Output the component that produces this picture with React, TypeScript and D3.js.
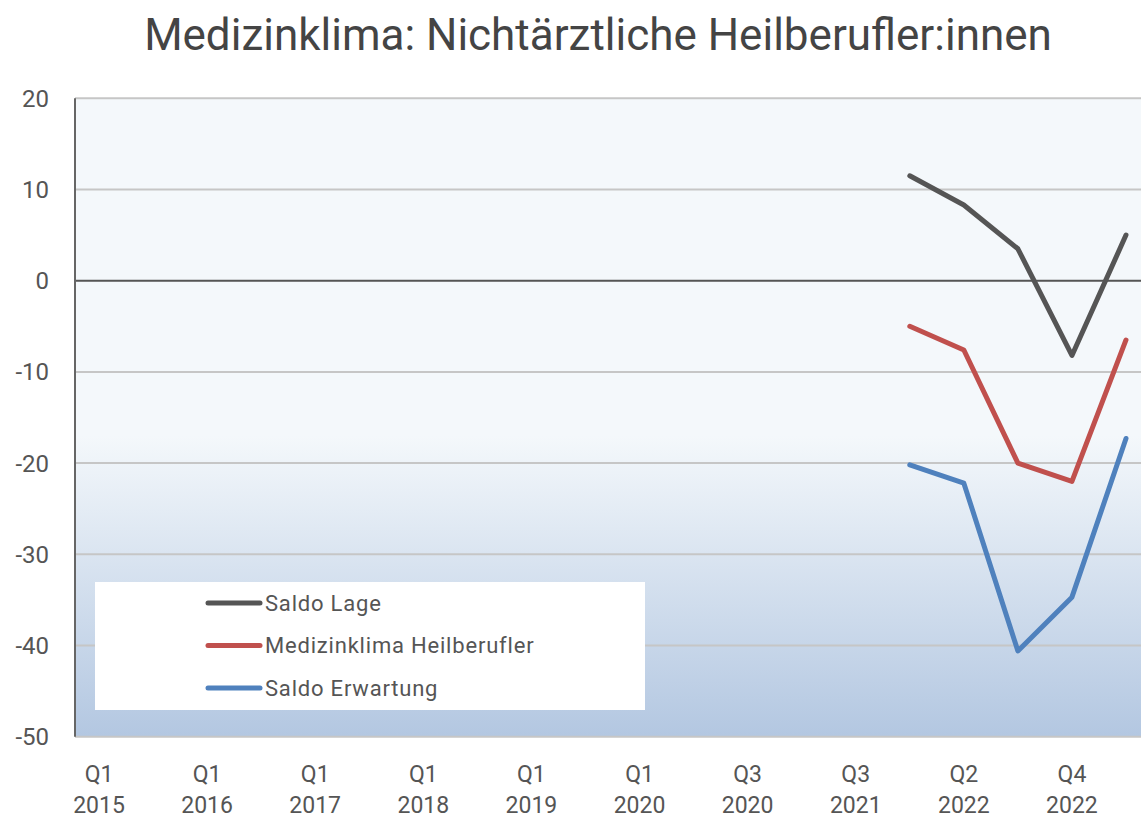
import React from 'react';
import * as d3 from 'd3';

const categories = [
  'Q1 2015', 'Q3 2015', 'Q1 2016', 'Q3 2016', 'Q1 2017', 'Q3 2017', 'Q1 2018', 'Q3 2018',
  'Q1 2019', 'Q3 2019', 'Q1 2020', 'Q2 2020', 'Q3 2020', 'Q1 2021', 'Q3 2021', 'Q1 2022',
  'Q2 2022', 'Q3 2022', 'Q4 2022', 'Q1 2023',
];
const dataCategories = ['Q1 2022', 'Q2 2022', 'Q3 2022', 'Q4 2022', 'Q1 2023'];
const saldoLage = [11.5, 8.3, 3.5, -8.2, 5.0];
const medizinklima = [-5.0, -7.6, -20.0, -22.0, -6.5];
const saldoErwartung = [-20.2, -22.2, -40.6, -34.7, -17.3];
const yTicks = [20, 10, 0, -10, -20, -30, -40, -50];

const series = [
  { name: 'Saldo Lage', values: saldoLage, color: '#555555' },
  { name: 'Medizinklima Heilberufler', values: medizinklima, color: '#c0504d' },
  { name: 'Saldo Erwartung', values: saldoErwartung, color: '#4f81bd' },
];

const W = 1141;
const H = 818;
const left = 75;
const right = 1141;
const font = 'Roboto, "DejaVu Sans", sans-serif';

export default function App() {
  const x = d3.scalePoint<string>().domain(categories).range([99, 1126]);
  const y = d3.scaleLinear().domain([-50, 20]).range([736.7, 98.3]);

  const line = d3.line<[string, number]>()
    .x(d => x(d[0]) as number)
    .y(d => y(d[1]));

  return (
    <svg width={W} height={H} style={{ position: 'absolute', left: 0, top: 0 }} fontFamily={font}>
      <defs>
        <linearGradient id="bg" x1="0" y1={y(20)} x2="0" y2={y(-50)} gradientUnits="userSpaceOnUse">
          <stop offset="0" stopColor="#f4f8fb" />
          <stop offset={(y(-17) - y(20)) / (y(-50) - y(20))} stopColor="#f4f8fb" />
          <stop offset="1" stopColor="#b3c7e1" />
        </linearGradient>
      </defs>
      <rect x={0} y={0} width={W} height={H} fill="#ffffff" />
      <text x={598} y={50} textAnchor="middle" fontSize={44} fill="#444444">
        Medizinklima: Nichtärztliche Heilberufler:innen
      </text>

      <rect x={left} y={y(20)} width={right - left} height={y(-50) - y(20)} fill="url(#bg)" />

      {yTicks.map(t => (
        <g key={t}>
          {t !== 0 && (
            <line x1={left} x2={right} y1={y(t)} y2={y(t)} stroke="#c6c6c6" strokeWidth={2} />
          )}
          <text x={49} y={y(t)} dy="0.35em" textAnchor="end" fontSize={24} fill="#555555">
            {t}
          </text>
        </g>
      ))}
      <line x1={left} x2={right} y1={y(0)} y2={y(0)} stroke="#555555" strokeWidth={2} />
      <line x1={left} x2={left} y1={y(20)} y2={y(-50)} stroke="#666666" strokeWidth={2} />

      {categories.map((c, i) => {
        if (i % 2 !== 0) return null;
        const [q, yr] = c.split(' ');
        return (
          <text key={c} x={x(c)} textAnchor="middle" fontSize={23} fill="#555555">
            <tspan x={x(c)} y={782}>{q}</tspan>
            <tspan x={x(c)} y={813}>{yr}</tspan>
          </text>
        );
      })}

      {series.map(s => (
        <path
          key={s.name}
          d={line(dataCategories.map((c, i) => [c, s.values[i]] as [string, number])) || ''}
          fill="none"
          stroke={s.color}
          strokeWidth={5}
          strokeLinecap="round"
          strokeLinejoin="round"
        />
      ))}

      <g transform="translate(95,582)">
        <rect x={0} y={0} width={550} height={128} fill="#ffffff" />
        {series.map((s, i) => (
          <g key={s.name} transform={`translate(0,${21 + i * 42.5})`}>
            <line x1={113} x2={165} y1={0} y2={0} stroke={s.color} strokeWidth={5} strokeLinecap="round" />
            <text x={170} y={0} dy="0.35em" fontSize={22} fill="#555555" letterSpacing={0.8}>
              {s.name}
            </text>
          </g>
        ))}
      </g>
    </svg>
  );
}
